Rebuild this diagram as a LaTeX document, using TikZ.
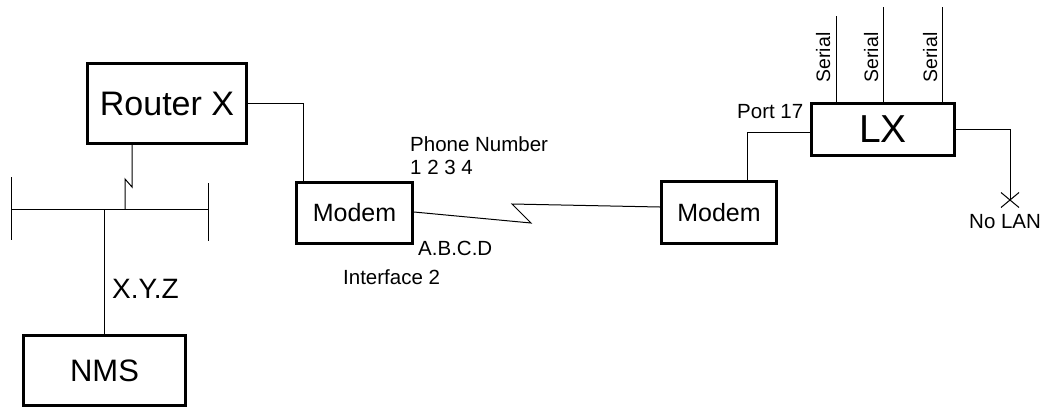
\documentclass[tikz,border=0pt]{standalone}
\usepackage{fontspec}
\setmainfont{Liberation Sans}
\usetikzlibrary{calc}
\begin{document}
\begin{tikzpicture}[x=1pt,y=-1pt,
  device/.style={draw, line width=3pt, inner sep=0pt, anchor=center},
  wire/.style={line width=1pt},
  lbl/.style={inner sep=0pt, anchor=base west, font=\fontsize{20.5}{24}\selectfont},
  serlbl/.style={inner sep=0pt, anchor=base, rotate=90, font=\fontsize{19.5}{23}\selectfont}]
\useasboundingbox (0,0) rectangle (1047,408);

% devices
\node[device, minimum width=159, minimum height=80, font=\fontsize{34}{40}\selectfont] (router) at (167,103.5) {Router X};
\node[device, minimum width=116, minimum height=61, font=\fontsize{25}{30}\selectfont] (modemA) at (354.5,213) {Modem};
\node[device, minimum width=115, minimum height=62, font=\fontsize{25}{30}\selectfont] (modemB) at (719,212.5) {Modem};
\node[device, minimum width=143, minimum height=52, font=\fontsize{39}{46}\selectfont] (lx) at (883,129.5) {LX};
\node[device, minimum width=162, minimum height=70, font=\fontsize{31}{37}\selectfont] (nms) at (104.5,370.5) {NMS};

% LAN segment
\coordinate (busL) at (11,209);
\coordinate (busR) at (208,209);
\coordinate (busN) at (104.5,209);
\coordinate (busT) at (125,209);
\draw[wire] (busL) -- (busR);
\draw[wire] (11,177) -- (11,240);
\draw[wire] (208,183) -- (208,241);

% router to LAN, with a break mark
\draw[wire] ([xshift=-35pt]router.south) -- ++(0,42) -- ++(-7,-8) -- (busT);
% LAN to NMS
\draw[wire] (busN) -- (nms.north);

% router to modem
\draw[wire] (router.east) -| ([xshift=8.5pt]modemA.north west);

% dial-up link between the modems
\draw[wire] ([yshift=1pt]modemA.east) -- (531,223) -- (512,204) -- ([yshift=5.5pt]modemB.west);

% modem to LX port 17
\draw[wire] ([yshift=-2.5pt]lx.west) -| ([xshift=87.5pt]modemB.north west);

% serial lines
\coordinate (s1) at (836,16);
\coordinate (s2) at (883,7);
\coordinate (s3) at (942,7);
\draw[wire] (s1) -- (s1 |- lx.north);
\draw[wire] (s2) -- (s2 |- lx.north);
\draw[wire] (s3) -- (s3 |- lx.north);
\node[serlbl] (ser1) at (830,57.5) {Serial};
\node[serlbl] (ser2) at (878,57.5) {Serial};
\node[serlbl] (ser3) at (937,57.5) {Serial};

% LX LAN port, not connected
\coordinate (nolan) at (1010,200);
\draw[wire] ([yshift=0.5pt]lx.east) -| (nolan);
\draw[wire] ($(nolan)+(-9,-7.5)$) -- ($(nolan)+(9,7.5)$);
\draw[wire] ($(nolan)+(-9,7.5)$) -- ($(nolan)+(9,-7.5)$);

% labels
\node[lbl] (phone) at (410,151) {Phone Number};
\node[lbl] (num) at (410,174) {1 2 3 4};
\node[lbl] (addr) at (418,255) {A.B.C.D};
\node[lbl] (iface) at (343,284) {Interface 2};
\node[lbl] (port) at (737,118) {Port 17};
\node[lbl] (nolanlbl) at (969,228) {No LAN};
\node[lbl, font=\fontsize{28}{33}\selectfont] (xyz) at (112,298) {X.Y.Z};
\end{tikzpicture}
\end{document}
